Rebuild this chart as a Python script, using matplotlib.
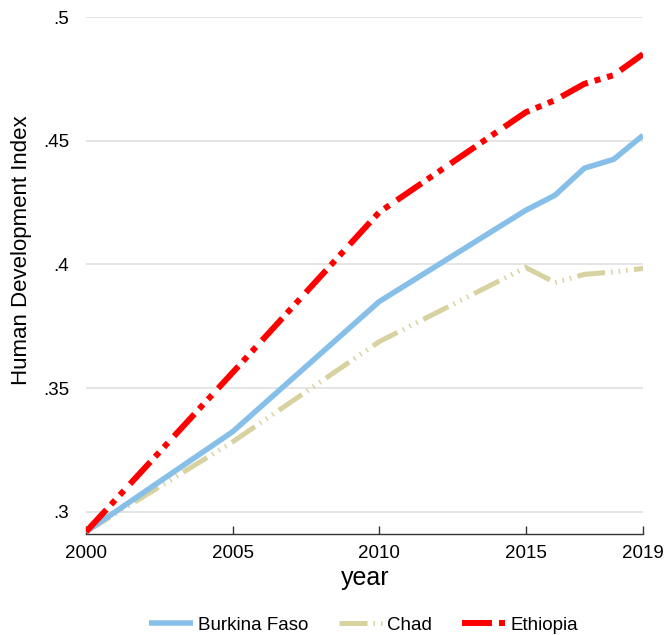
import matplotlib
matplotlib.use("Agg")
import matplotlib.pyplot as plt

plt.rcParams['font.family'] = ['Liberation Sans', 'DejaVu Sans']
plt.rcParams['lines.scale_dashes'] = False

# data
years = [2000, 2005, 2010, 2015, 2016, 2017, 2018, 2019]
burkina = [0.292, 0.3324, 0.385, 0.4219, 0.428, 0.4389, 0.4425, 0.4522]
chad = [0.292, 0.3283, 0.3688, 0.3988, 0.3927, 0.396, 0.397, 0.3984]
ethiopia = [0.292, 0.3563, 0.4211, 0.4615, 0.4664, 0.473, 0.4765, 0.485]

xticks = [2000, 2005, 2010, 2015, 2019]
yticks = [0.3, 0.35, 0.4, 0.45, 0.5]
ytick_labels = ['.3', '.35', '.4', '.45', '.5']

fig = plt.figure(figsize=(6.65, 6.35), dpi=100)
ax = fig.add_axes([86/665, 1-534/635, (643-86)/665, (534-17)/635])

px = 0.72  # points per pixel
ax.plot(years, burkina, color='#86BFE8', lw=5.5*px, solid_capstyle='butt',
        label='Burkina Faso', zorder=3)
ax.plot(years, chad, color='#D8D2A1', lw=5*px, dash_capstyle='butt',
        dashes=[28*px, 6*px, 1.5*px, 6*px, 1.5*px, 6*px, 1.5*px, 6.5*px],
        label='Chad', zorder=2)
ax.plot(years, ethiopia, color='#FF0000', lw=6*px, dash_capstyle='butt',
        dashes=[30*px, 7*px, 6*px, 7*px, 6*px, 9*px],
        label='Ethiopia', zorder=4)

ax.set_xlim(2000, 2019)
ax.set_ylim(0.2911, 0.5)
ax.set_xticks(xticks)
ax.set_xticklabels([str(x) for x in xticks], fontsize=13.5)
ax.set_yticks(yticks)
ax.set_yticklabels(ytick_labels, fontsize=13.5)
ax.tick_params(axis='x', direction='in', length=6, width=1, color='#333333', pad=8)
ax.tick_params(axis='y', length=0, pad=12)
ax.grid(axis='y', color='#E0E0E0', lw=1.2)
ax.set_axisbelow(True)
for s in ['top', 'right', 'left']:
    ax.spines[s].set_visible(False)
ax.spines['bottom'].set_color('#333333')
ax.spines['bottom'].set_linewidth(1)

fig.text(22/665, 1-250/635, 'Human Development Index', rotation=90,
         ha='center', va='center', fontsize=16)
fig.text(365/665, 1-578/635, 'year', ha='center', va='center', fontsize=18)

fig.legend(loc='center', bbox_to_anchor=(364/665, 1-625/635), ncol=3,
           frameon=False, fontsize=13.5, handlelength=2.3, handletextpad=0.3,
           columnspacing=1.6)

fig.savefig('out.png', dpi=100)
